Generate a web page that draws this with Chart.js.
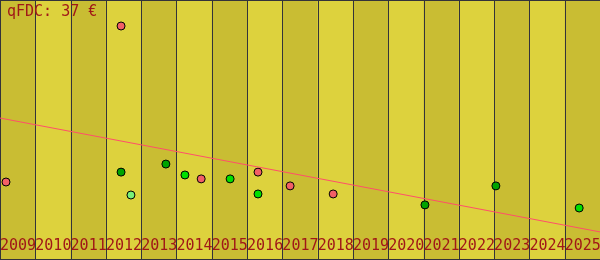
<!DOCTYPE html>
<html>
<head>
<meta charset="utf-8">
<script src="https://cdn.jsdelivr.net/npm/chart.js@4/dist/chart.umd.min.js"></script>
<style>
  html, body { margin: 0; padding: 0; background: #ddd23d; }
  #wrap { position: relative; width: 600px; height: 260px; }
  #title {
    position: absolute; left: 7px; top: 4px;
    font: 15px/15px "DejaVu Sans Mono", monospace;
    color: #a01818; white-space: pre;
  }
</style>
</head>
<body>
<div id="wrap">
  <canvas id="chart" width="600" height="260"></canvas>
  <div id="title">qFDC: 37 €</div>
</div>
<script>
const years = [2009, 2010, 2011, 2012, 2013, 2014, 2015, 2016, 2017,
               2018, 2019, 2020, 2021, 2022, 2023, 2024, 2025];

// points, grouped by colour (x = fractional year, y = price)
const redX = [2009.17, 2012.43, 2014.70, 2016.31, 2017.22, 2018.44];
const redY = [30.0, 90.0, 31.2, 33.8, 28.5, 25.4];
const darkGreenX = [2012.43, 2013.70, 2021.04, 2023.05];
const darkGreenY = [33.8, 36.9, 21.2, 28.5];
const brightGreenX = [2014.24, 2015.52, 2016.31, 2025.41];
const brightGreenY = [32.7, 31.2, 25.4, 20.0];
const lightGreenX = [2012.71];
const lightGreenY = [25.0];

const trendX = [2009, 2026];
const trendY = [54.6, 10.8];

const colors = {
    bandDark: '#c9bd33',
    bandLight: '#ddd23d',
    grid: '#33333a',
    text: '#a01818',
    red: '#f25f66',
    darkGreen: '#00a400',
    brightGreen: '#00e000',
    lightGreen: '#78f078',
    trend: '#ff4f6a'
};

const AXIS_H = 24;
const Y_MAX = 100;
const Y_MIN = Y_MAX - (260 - AXIS_H) / 2.6;

const toPoints = (xs, ys) => xs.map((x, i) => ({ x: x, y: ys[i] }));

const dotSet = (label, xs, ys, color) => ({
    type: 'scatter',
    label: label,
    data: toPoints(xs, ys),
    backgroundColor: color,
    borderColor: '#000000',
    borderWidth: 1,
    pointRadius: 4,
    pointHoverRadius: 4,
    clip: false
});

// bands + year lines, drawn over the full canvas height
const bandsPlugin = {
    id: 'bands',
    beforeDraw(chart) {
        const ctx = chart.ctx;
        const xs = chart.scales.x;
        const h = chart.height;
        ctx.save();
        years.forEach((yr, i) => {
            const x0 = xs.getPixelForValue(yr);
            const x1 = xs.getPixelForValue(yr + 1);
            ctx.fillStyle = i % 2 === 0 ? colors.bandDark : colors.bandLight;
            ctx.fillRect(x0, 0, x1 - x0, h);
        });
        ctx.strokeStyle = colors.grid;
        ctx.lineWidth = 1;
        ctx.beginPath();
        years.forEach(yr => {
            const x = Math.round(xs.getPixelForValue(yr)) + 0.5;
            ctx.moveTo(x, 0);
            ctx.lineTo(x, h);
        });
        ctx.moveTo(0, 0.5);
        ctx.lineTo(chart.width, 0.5);
        ctx.moveTo(0, h - 0.5);
        ctx.lineTo(chart.width, h - 0.5);
        ctx.stroke();
        ctx.restore();
    }
};

new Chart(document.getElementById('chart').getContext('2d'), {
    type: 'scatter',
    data: {
        datasets: [
            {
                type: 'line',
                label: 'trend',
                data: toPoints(trendX, trendY),
                borderColor: colors.trend,
                borderWidth: 1,
                pointRadius: 0,
                fill: false
            },
            dotSet('red', redX, redY, colors.red),
            dotSet('darkGreen', darkGreenX, darkGreenY, colors.darkGreen),
            dotSet('brightGreen', brightGreenX, brightGreenY, colors.brightGreen),
            dotSet('lightGreen', lightGreenX, lightGreenY, colors.lightGreen)
        ]
    },
    options: {
        responsive: false,
        animation: false,
        layout: { padding: 0, autoPadding: false },
        plugins: {
            legend: { display: false },
            tooltip: { enabled: false }
        },
        scales: {
            x: {
                type: 'linear',
                min: 2009,
                max: 2026,
                offset: false,
                grid: { display: false },
                border: { display: false },
                afterFit(scale) {
                    scale.height = AXIS_H;
                    scale.paddingLeft = 0;
                    scale.paddingRight = 0;
                },
                ticks: {
                    stepSize: 1,
                    autoSkip: false,
                    maxRotation: 0,
                    minRotation: 0,
                    align: 'start',
                    padding: -7,
                    color: colors.text,
                    font: { family: 'DejaVu Sans Mono', size: 15 },
                    callback: v => (v >= 2026 ? '' : String(v))
                }
            },
            y: {
                display: false,
                min: Y_MIN,
                max: Y_MAX
            }
        }
    },
    plugins: [bandsPlugin]
});
</script>
</body>
</html>
